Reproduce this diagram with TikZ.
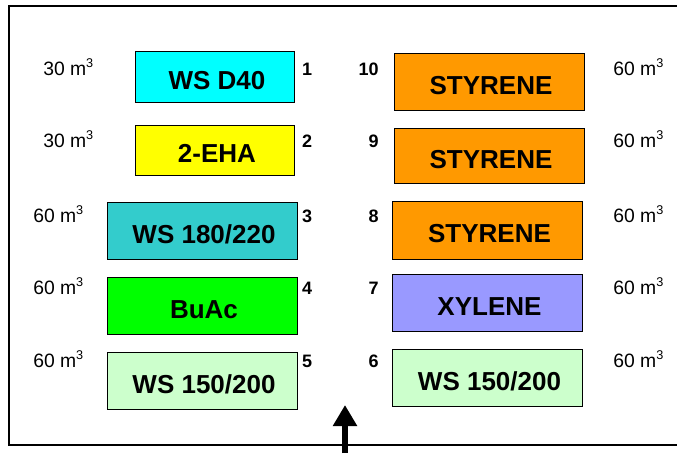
\documentclass[tikz,border=0pt]{standalone}
\usepackage{fontspec}
\setmainfont{Liberation Sans}
\usetikzlibrary{arrows.meta, positioning}

\definecolor{tankcyan}{HTML}{00FFFF}
\definecolor{tankyellow}{HTML}{FFFF00}
\definecolor{tankteal}{HTML}{33CCCC}
\definecolor{tankgreen}{HTML}{00FF00}
\definecolor{tankmint}{HTML}{CCFFCC}
\definecolor{tankorange}{HTML}{FF9900}
\definecolor{tankviolet}{HTML}{9999FF}

\newcommand{\cubic}{m\raisebox{6pt}{\fontsize{9.5}{10}\selectfont 3}}

\begin{document}
\begin{tikzpicture}[
  x=0.75pt, y=-0.75pt,
  tank/.style={rectangle, draw=black, line width=0.75pt, inner sep=0pt, text height=18.5pt, text depth=0pt, font=\fontsize{19.5}{22}\selectfont\bfseries},
  small/.style={minimum width=119.25pt, minimum height=37.5pt},
  large/.style={minimum width=142.5pt, minimum height=43pt},
  vol/.style={anchor=base west, inner sep=0pt, font=\fontsize{14.5}{17}\selectfont},
  num/.style={inner sep=0pt, font=\fontsize{13.5}{16}\selectfont\bfseries},
  frame/.style={line width=1.5pt},
  arrow/.style={-{Triangle[length=15.75pt, width=17.25pt]}, line width=4.5pt}
]

\useasboundingbox (0,0) rectangle (677,453);

% Frame (open to the right)
\draw[frame] (677,6.5) -- (9,6.5) -- (9,445) -- (677,445);

% Left row of tanks
\node[tank, small, fill=tankcyan] (tank1) at (215,77) {\hspace{3pt}WS D40};
\node[tank, small, fill=tankyellow] (tank2) at (215,150) {\hspace{3pt}2-EHA};
\node[tank, large, fill=tankteal] (tank3) at (202,231) {\hspace{3pt}WS 180/220};
\node[tank, large, fill=tankgreen] (tank4) at (202,306) {\hspace{3pt}BuAc};
\node[tank, large, fill=tankmint] (tank5) at (202,381) {\hspace{3pt}WS 150/200};

% Right row of tanks
\node[tank, large, fill=tankorange] (tank10) at (489,82) {\hspace{3pt}STYRENE};
\node[tank, large, fill=tankorange, minimum height=41.5pt] (tank9) at (489,156) {\hspace{3pt}STYRENE};
\node[tank, large, fill=tankorange] (tank8) at (487.5,230.5) {\hspace{3pt}STYRENE};
\node[tank, large, fill=tankviolet] (tank7) at (487.5,303) {\hspace{3pt}XYLENE};
\node[tank, large, fill=tankmint] (tank6) at (487.5,378) {\hspace{3pt}WS 150/200};

% Tank numbers
\node[num, anchor=base] (n1) at (307,75) {1};
\node[num, anchor=base] (n2) at (307,147) {2};
\node[num, anchor=base] (n3) at (307,222) {3};
\node[num, anchor=base] (n4) at (307,294) {4};
\node[num, anchor=base] (n5) at (307,367) {5};
\node[num, anchor=base east] (n10) at (379,75) {10};
\node[num, anchor=base east] (n9) at (379,147) {9};
\node[num, anchor=base east] (n8) at (379,222) {8};
\node[num, anchor=base east] (n7) at (379,294) {7};
\node[num, anchor=base east] (n6) at (379,367) {6};

% Volumes
\node[vol] (v1) at (43,75) {30 \cubic};
\node[vol] (v2) at (43,147) {30 \cubic};
\node[vol] (v3) at (33,222) {60 \cubic};
\node[vol] (v4) at (33,294) {60 \cubic};
\node[vol] (v5) at (33,367) {60 \cubic};
\node[vol] (v10) at (613,75) {60 \cubic};
\node[vol] (v9) at (613,147) {60 \cubic};
\node[vol] (v8) at (613,222) {60 \cubic};
\node[vol] (v7) at (613,294) {60 \cubic};
\node[vol] (v6) at (613,367) {60 \cubic};

% Entry arrow
\coordinate (entry) at (345,453);
\coordinate (gate) at (345,405);
\draw[arrow] (entry) -- (gate);

\end{tikzpicture}
\end{document}
